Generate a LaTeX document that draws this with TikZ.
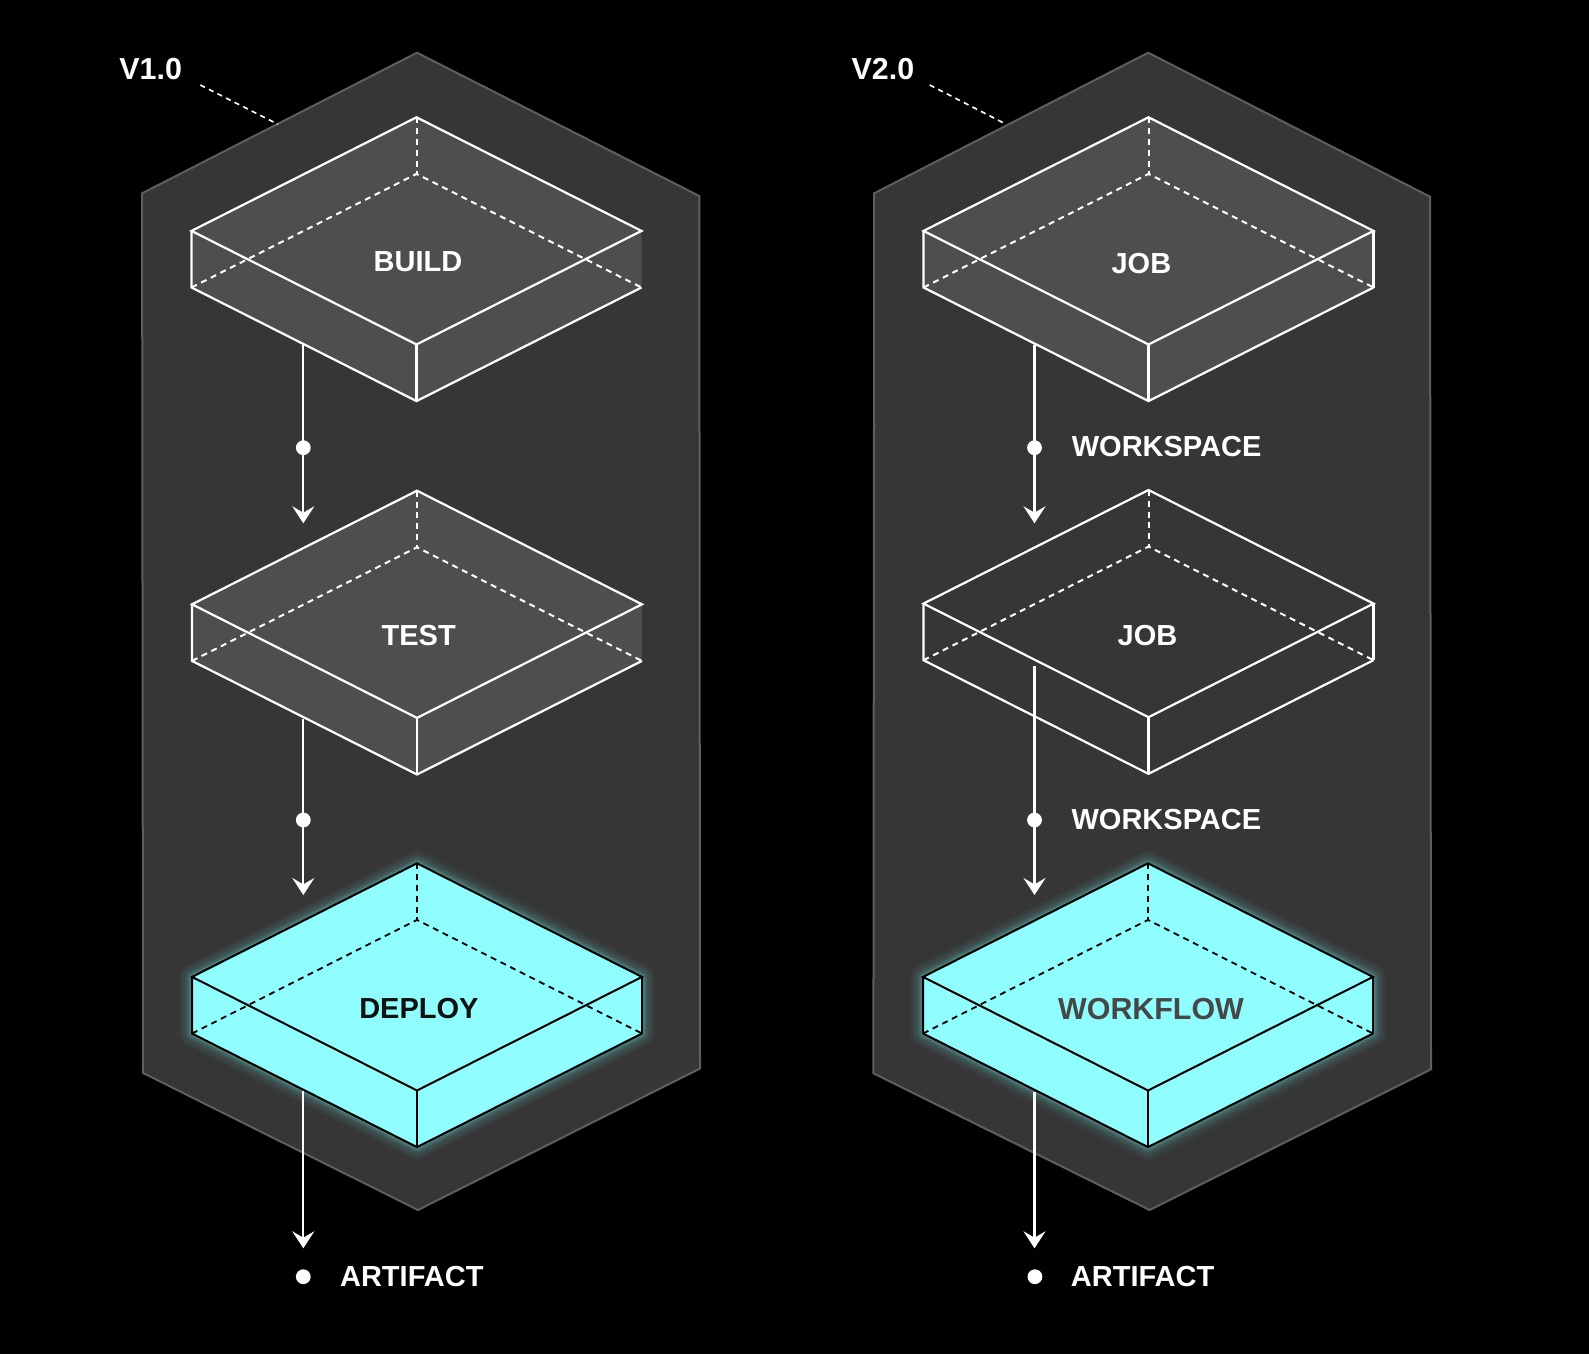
\documentclass[tikz,border=0pt]{standalone}
\usepackage{fontspec}
\setmainfont{Liberation Sans}
\usetikzlibrary{calc,arrows.meta}
\definecolor{hexfill}{HTML}{363636}
\definecolor{hexline}{HTML}{5E5E5E}
\definecolor{boxfill}{HTML}{4E4E4E}
\definecolor{cyanfill}{HTML}{8FFDFD}
\definecolor{glowc}{HTML}{6FE8E8}
\definecolor{wfgray}{HTML}{474747}
\definecolor{dpblack}{HTML}{111111}

% name, cx, ty
\newcommand\IsoBox[3]{%
  \coordinate (#1-N)  at (#2,#3);
  \coordinate (#1-E)  at ($(#1-N)+(225,113.6)$);
  \coordinate (#1-S)  at ($(#1-N)+(0,227.2)$);
  \coordinate (#1-W)  at ($(#1-N)+(-225,113.6)$);
  \coordinate (#1-Nb) at ($(#1-N)+(0,56.6)$);
  \coordinate (#1-Eb) at ($(#1-E)+(0,56.6)$);
  \coordinate (#1-Sb) at ($(#1-S)+(0,56.6)$);
  \coordinate (#1-Wb) at ($(#1-W)+(0,56.6)$);
}
% name, fill style
\newcommand\BoxFill[2]{%
  \path[#2] (#1-N) -- (#1-E) -- (#1-Eb) -- (#1-Sb) -- (#1-Wb) -- (#1-W) -- cycle;
}
\newcommand\BoxGlow[1]{%
  \foreach \w/\o in {13/0.04,10/0.06,7/0.08,4.5/0.12,2.5/0.18}{%
    \draw[glowc, line width=\w pt, opacity=\o, line join=round]
      (#1-N) -- (#1-E) -- (#1-Eb) -- (#1-Sb) -- (#1-Wb) -- (#1-W) -- cycle;}%
}
% name, solid style, dashed style
\newcommand\BoxEdges[3]{%
  \draw[#3] (#1-N) -- (#1-Nb);
  \draw[#3] (#1-Wb) -- (#1-Nb) -- (#1-Eb);
  \draw[#2] (#1-N) -- (#1-E) -- (#1-S) -- (#1-W) -- cycle;
  \draw[#2] (#1-W) -- (#1-Wb) -- (#1-Sb) -- (#1-Eb);
  \draw[#2] (#1-S) -- (#1-Sb);
}
\newcommand\BoxRight[2]{\draw[#2] (#1-E) -- (#1-Eb);}

\begin{document}
\begin{tikzpicture}[x=0.5pt,y=-0.5pt,
  hex/.style={fill=hexfill, draw=hexline, line width=1pt, line join=miter},
  graybox/.style={fill=boxfill},
  cyanbox/.style={fill=cyanfill},
  wedge/.style={draw=white, line width=1.1pt, line join=miter},
  whid/.style={draw=white, line width=1pt, dash pattern=on 3pt off 2.4pt},
  kedge/.style={draw=black, line width=1pt, line join=miter},
  khid/.style={draw=black, line width=0.9pt, dash pattern=on 3pt off 2.4pt},
  flow/.style={draw=white, line width=1.1pt, -{Stealth[length=8.5pt,width=11pt,inset=3.2pt]}},
  dot/.style={circle, fill=white, inner sep=0pt, minimum size=7.4pt},
  lbl/.style={text=white, font=\fontsize{14.5}{17}\selectfont\bfseries, inner sep=0pt},
  ver/.style={lbl, font=\fontsize{15.2}{18}\selectfont\bfseries},
  leader/.style={draw=white, line width=0.8pt, dash pattern=on 2.6pt off 2.2pt}
]
\fill[black] (0,0) rectangle (1589,1354);
\useasboundingbox (0,0) rectangle (1589,1354);

% ---------- hexagons ----------
\path[hex] (417,52.7) -- (699.3,196) -- (700,1068.5) -- (418,1210) -- (143,1073) -- (142.1,193.3) -- cycle;
\path[hex] (1148.2,52.7) -- (1430,196.7) -- (1431,1069.3) -- (1149.7,1210) -- (873.4,1073.3) -- (874.2,193.3) -- cycle;

% ---------- version labels ----------
\node[ver, anchor=base west] (v1) at (119,80) {V1.0};
\node[ver, anchor=base west] (v2) at (851.3,79.3) {V2.0};
\coordinate (v1-end) at (278,124.3);
\coordinate (v2-end) at (1006.2,124.3);
\coordinate (v1-start) at (200.3,85);
\coordinate (v2-start) at (929.7,85);
\draw[leader] (v1-start) -- (v1-end);
\draw[leader] (v2-start) -- (v2-end);

% ---------- boxes ----------
\IsoBox{build}{416.5}{117.3}
\IsoBox{test}{417}{490.7}
\IsoBox{deploy}{417}{863.3}
\IsoBox{jobA}{1148.5}{117.3}
\IsoBox{jobB}{1148.5}{490}
\IsoBox{wf}{1148}{863.3}

\BoxFill{build}{graybox}
\BoxEdges{build}{wedge}{whid}
\BoxFill{test}{graybox}
\BoxEdges{test}{wedge}{whid}
\BoxFill{jobA}{graybox}
\BoxEdges{jobA}{wedge}{whid}
\BoxRight{jobA}{wedge}
\BoxEdges{jobB}{wedge}{whid}
\BoxRight{jobB}{wedge}

\BoxGlow{deploy}
\BoxFill{deploy}{cyanbox}
\BoxEdges{deploy}{kedge}{khid}
\BoxRight{deploy}{kedge}
\BoxGlow{wf}
\BoxFill{wf}{cyanbox}
\BoxEdges{wf}{kedge}{khid}
\BoxRight{wf}{kedge}

% ---------- box labels ----------
\node[lbl, anchor=base] (lbuild) at (418,271.7) {BUILD};
\node[lbl, anchor=base] (ltest) at (418.7,645) {TEST};
\node[lbl, anchor=base, text=dpblack] (ldeploy) at (418.9,1018.3) {DEPLOY};
\node[lbl, anchor=base] (ljobA) at (1141.4,273.5) {JOB};
\node[lbl, anchor=base] (ljobB) at (1147.5,645) {JOB};
\node[lbl, anchor=base, text=wfgray, font=\fontsize{15.2}{18}\selectfont\bfseries] (lwf) at (1151,1019.5) {WORKFLOW};

% ---------- connectors, left ----------
\coordinate (build-out) at (303.3,344.6);
\coordinate (test-in) at (303.3,523.3);
\coordinate (test-out) at (303.3,718.6);
\coordinate (deploy-in) at (303.3,895);
\coordinate (deploy-out) at (303.3,1090.5);
\coordinate (artL-in) at (303.3,1248.3);
\draw[flow] (build-out) -- (test-in);
\draw[flow] (test-out) -- (deploy-in);
\draw[flow] (deploy-out) -- (artL-in);
\node[dot] (dl1) at (303.3,447.7) {};
\node[dot] (dl2) at (303.3,820) {};
\node[dot] (dl3) at (303.3,1276.7) {};

% ---------- connectors, right ----------
\coordinate (jobA-out) at (1034.5,345);
\coordinate (jobB-in) at (1034.5,523.3);
\coordinate (jobB-out) at (1034.5,666);
\coordinate (wf-in) at (1034.5,895);
\coordinate (wf-out) at (1034.5,1091.5);
\coordinate (artR-in) at (1034.5,1248.3);
\draw[flow] (jobA-out) -- (jobB-in);
\draw[flow] (jobB-out) -- (wf-in);
\draw[flow] (wf-out) -- (artR-in);
\node[dot] (dr1) at (1034.5,447.7) {};
\node[dot] (dr2) at (1034.5,820) {};
\node[dot] (dr3) at (1034.9,1276.7) {};

% ---------- side labels ----------
\node[lbl, anchor=base west] (ws1) at (1071.4,456.7) {WORKSPACE};
\node[lbl, anchor=base west] (ws2) at (1071.2,829.3) {WORKSPACE};
\node[lbl, anchor=base west] (artL) at (339.7,1286) {ARTIFACT};
\node[lbl, anchor=base west] (artR) at (1070.5,1286) {ARTIFACT};
\end{tikzpicture}
\end{document}
